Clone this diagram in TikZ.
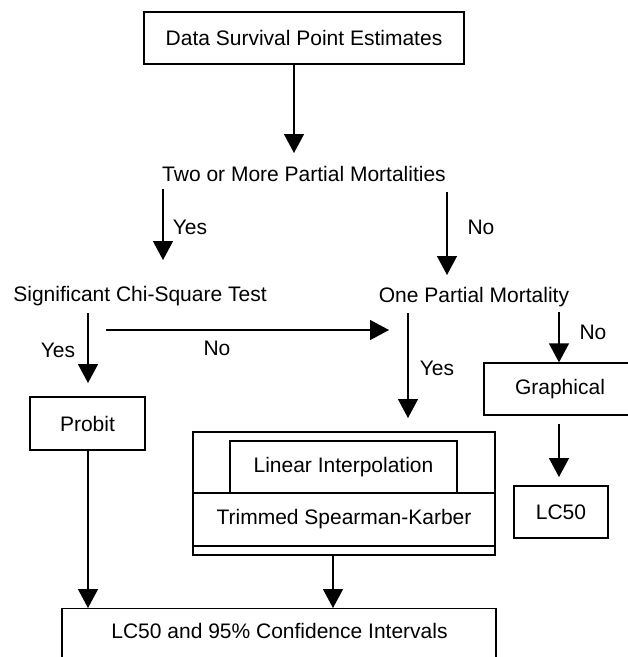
\documentclass[tikz,border=0pt]{standalone}
\usepackage{fontspec}
\setmainfont{Liberation Sans}
\usetikzlibrary{arrows.meta}
\begin{document}
\begin{tikzpicture}[x=1pt,y=-1pt,
  font=\fontsize{21}{25}\selectfont,
  line width=1.4pt,
  arr/.style={-{Triangle[width=20pt,length=19pt]}},
  box/.style={draw, rectangle, inner sep=0pt, line width=1.3pt}]
\useasboundingbox (0,0) rectangle (628,657);
\clip (0,0) rectangle (628,657);

\node[box, minimum width=320pt, minimum height=52pt] (top) at (304,38) {Data Survival Point Estimates};
\node[inner sep=0pt] (two) at (304,174) {Two or More Partial Mortalities};
\node[inner sep=0pt] (chi) at (140,296) {Significant Chi-Square Test};
\node[inner sep=0pt] (one) at (474,297) {One Partial Mortality};
\node[box, minimum width=115pt, minimum height=53pt] (probit) at (87.5,423.5) {Probit};
\node[box, minimum width=302pt, minimum height=123pt] (big) at (344,493.5) {};
\node[box, minimum width=227pt, minimum height=52pt] (lin) at (343.5,467) {Linear Interpolation};
\node[box, minimum width=302pt, minimum height=53pt] (tsk) at (344,519.5) {Trimmed Spearman-Karber};
\node[box, minimum width=152pt, minimum height=52pt] (graph) at (560,389) {Graphical};
\node[box, minimum width=94pt, minimum height=52pt] (lc) at (561,512) {LC50};
\node[box, minimum width=434pt, minimum height=70pt, anchor=north] (final) at (279,608) {};
\node (finaltxt) at (279.5,631) {LC50 and 95\% Confidence Intervals};

\coordinate (t1) at (294,153);
\draw[arr] (top.south -| t1) -- (t1);
\coordinate (a2s) at (163,189);
\coordinate (a2e) at (163,260);
\draw[arr] (a2s) -- (a2e);
\node at (190,227) {Yes};
\coordinate (a3s) at (447,192);
\coordinate (a3e) at (447,275);
\draw[arr] (a3s) -- (a3e);
\node at (481,227) {No};

\coordinate (a4s) at (88,313);
\draw[arr] (a4s) -- (88,383);
\node at (58,350) {Yes};
\coordinate (a5s) at (106,330);
\draw[arr] (a5s) -- (389,330);
\node at (217,348) {No};

\coordinate (a6s) at (408,313);
\draw[arr] (a6s) -- (408,418);
\node at (437,368) {Yes};
\coordinate (a7s) at (559,312);
\draw[arr] (a7s) -- (graph.north -| a7s);
\node at (593,332) {No};

\coordinate (a8e) at (559,477);
\draw[arr] (graph.south -| a8e) ++(0,8) -- (a8e);

\coordinate (a10) at (88,0);
\draw[arr] (probit.south -| a10) -- (final.north -| a10);
\coordinate (a9) at (333,0);
\draw[arr] (big.south -| a9) -- (final.north -| a9);
\end{tikzpicture}
\end{document}
